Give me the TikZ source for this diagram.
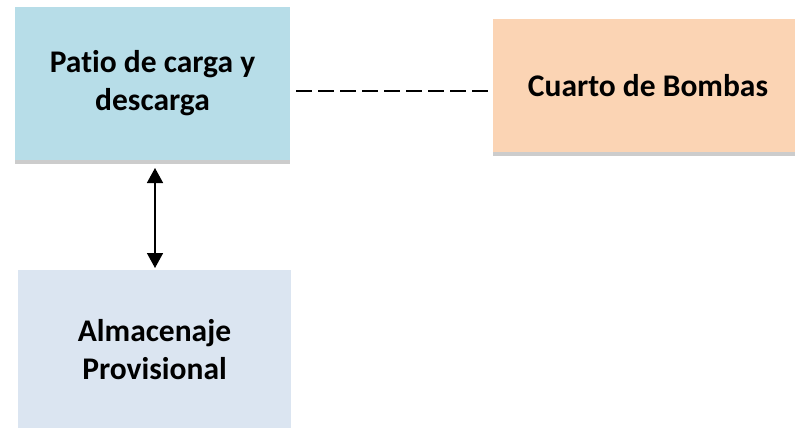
\documentclass[tikz,border=0pt]{standalone}
\usepackage{fontspec}
\setmainfont[Ligatures=NoCommon]{Carlito}
\usetikzlibrary{shadows,arrows.meta}
\definecolor{patio}{HTML}{B7DDE8}
\definecolor{cuarto}{HTML}{FBD4B4}
\definecolor{almac}{HTML}{DBE5F1}
\tikzset{
  box/.style={draw=none, inner sep=0pt, align=center, font=\bfseries\fontsize{31.5}{38}\selectfont,
    drop shadow={shadow xshift=0pt, shadow yshift=-4pt, fill=black!40, opacity=0.5}},
}
\begin{document}
\begin{tikzpicture}[x=1pt,y=-1pt]
\useasboundingbox (0,0) rectangle (795,428);
\node[box, fill=patio, minimum width=275pt, minimum height=153pt] (patio) at (152.5,83.5) {Patio de carga y\\descarga};
\node[box, fill=cuarto, minimum width=310pt, minimum height=133pt] (cuarto) at (648,85.5) {Cuarto de Bombas};
\node[box, fill=almac, minimum width=273pt, minimum height=160pt] (almac) at (154.5,350) {Almacenaje\\Provisional};
\coordinate (dA) at (296,91);
\coordinate (dB) at (490,91);
\coordinate (aA) at (155,168);
\coordinate (aB) at (155,268);
\draw[line width=1.5pt, dash pattern=on 16pt off 6pt] (dA) -- (dB);
\draw[line width=1.6pt, {Triangle[width=16pt,length=15pt]}-{Triangle[width=16pt,length=15pt]}] (aA) -- (aB);
\end{tikzpicture}
\end{document}
